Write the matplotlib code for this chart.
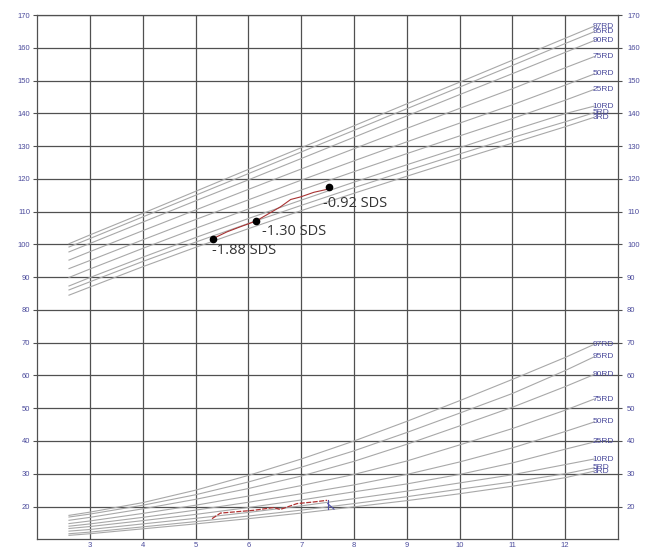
import numpy as np
from matplotlib import pyplot as plt
from matplotlib.transforms import ScaledTranslation

# centile reference curves, height (cm) and weight (kg) on one chart
centiles = ['97RD', '95RD', '90RD', '75RD', '50RD', '25RD', '10RD', '5RD', '3RD']
ages = [2.6, 3, 4, 5, 6, 7, 8, 9, 10, 11, 12, 12.55]

height_97 = [100.2, 102.9, 109.5, 116.2, 122.9, 129.5, 136.2, 142.9, 149.5, 156.2, 162.9, 166.6]
height_95 = [99.2, 101.8, 108.4, 115.0, 121.6, 128.2, 134.8, 141.4, 148.0, 154.6, 161.3, 164.9]
height_90 = [97.7, 100.3, 106.8, 113.3, 119.7, 126.2, 132.7, 139.2, 145.7, 152.1, 158.6, 162.2]
height_75 = [95.2, 97.8, 104.2, 110.5, 116.8, 123.0, 129.2, 135.4, 141.5, 147.5, 153.9, 157.3]
height_50 = [92.6, 95.1, 101.4, 107.6, 113.6, 119.6, 125.5, 131.3, 137.0, 142.6, 148.6, 152.0]
height_25 = [89.9, 92.5, 98.8, 104.9, 110.8, 116.6, 122.2, 127.7, 133.1, 138.4, 144.0, 147.3]
height_10 = [87.3, 89.9, 96.1, 102.1, 107.9, 113.5, 119.0, 124.3, 129.5, 134.8, 139.9, 142.2]
height_5 = [86.1, 88.6, 94.8, 100.7, 106.4, 111.9, 117.3, 122.5, 127.6, 132.6, 137.4, 140.2]
height_3 = [84.5, 87.0, 93.2, 99.1, 104.8, 110.3, 115.6, 120.8, 125.9, 130.9, 135.9, 138.8]

weight_97 = [17.3, 18.3, 21.2, 25.0, 29.5, 34.5, 40.0, 46.0, 52.3, 58.8, 65.5, 69.5]
weight_95 = [16.8, 17.7, 20.4, 23.6, 27.5, 32.0, 37.0, 42.6, 48.5, 54.5, 61.5, 65.7]
weight_90 = [15.8, 16.7, 19.3, 22.2, 25.5, 29.3, 33.8, 39.0, 44.6, 50.3, 56.6, 60.3]
weight_75 = [14.8, 15.6, 17.9, 20.4, 23.2, 26.4, 29.8, 33.9, 38.8, 43.8, 49.4, 52.8]
weight_50 = [14.0, 14.7, 16.7, 18.9, 21.3, 23.9, 26.6, 29.8, 33.6, 37.9, 42.9, 45.8]
weight_25 = [13.3, 13.9, 15.7, 17.6, 19.7, 22.0, 24.5, 26.9, 29.8, 33.3, 37.5, 39.7]
weight_10 = [12.5, 13.0, 14.7, 16.4, 18.2, 20.2, 22.4, 24.7, 27.2, 29.7, 32.8, 34.5]
weight_5 = [11.7, 12.2, 13.8, 15.4, 17.1, 18.9, 20.9, 23.0, 25.3, 27.5, 30.0, 31.8]
weight_3 = [11.2, 11.7, 13.2, 14.7, 16.3, 18.0, 19.9, 21.8, 23.9, 26.2, 28.8, 30.8]

# patient measurements
pt_age = [5.32, 5.59, 5.85, 6.14, 6.61, 6.80, 6.99, 7.24, 7.49, 7.535]
pt_height = [101.7, 103.8, 105.4, 107.1, 111.5, 113.7, 114.5, 115.9, 116.8, 117.6]
wt_age = [5.31, 5.47, 6.10, 6.48, 6.60, 6.92, 7.24, 7.49]
pt_weight = [16.3, 18.0, 18.85, 19.7, 19.1, 20.9, 21.4, 21.9]

sds_age = [5.32, 6.14, 7.535]
sds_height = [101.7, 107.1, 117.6]
sds_text = ['-1.88 SDS', '-1.30 SDS', '-0.92 SDS']
sds_text_xy = [(5.31, 98.2), (6.26, 104.0), (7.42, 112.5)]

x_ticks = list(range(3, 13))
y_ticks = list(range(20, 171, 10))

heights = [height_97, height_95, height_90, height_75, height_50,
           height_25, height_10, height_5, height_3]
weights = [weight_97, weight_95, weight_90, weight_75, weight_50,
           weight_25, weight_10, weight_5, weight_3]

label_col = '#4b4b9c'
grid_col = '#505050'
curve_col = '#a8a8a8'

fig = plt.figure(figsize=(6.46, 5.5), dpi=100)
ax = fig.add_axes([37.3 / 646, 10.7 / 550, (618 - 37.3) / 646, (539.3 - 15) / 550])

ax.set_xlim(2, 13)
ax.set_ylim(10, 170)
ax.set_xticks(x_ticks)
ax.set_yticks(y_ticks)
ax.grid(True, color=grid_col, linewidth=0.9)
ax.set_axisbelow(True)
for s in ax.spines.values():
    s.set_color(grid_col)
    s.set_linewidth(0.9)

ax.tick_params(axis='y', which='both', left=True, right=True, labelleft=True,
               labelright=True, length=3, width=0.8, color=grid_col,
               labelsize=5.5, labelcolor=label_col, pad=2)
ax.tick_params(axis='x', length=0, labelsize=5.5, labelcolor=label_col, pad=2)
for lab in ax.get_xticklabels() + ax.get_yticklabels():
    lab.set_family('Liberation Sans')

# right-hand labels sit a touch further out
shift = ScaledTranslation(1.5 / 72, 0, fig.dpi_scale_trans)
for tick in ax.yaxis.get_major_ticks():
    tick.label2.set_transform(tick.label2.get_transform() + shift)

for name, h, w in zip(centiles, heights, weights):
    ax.plot(ages, h, color=curve_col, linewidth=0.8, zorder=2)
    ax.plot(ages, w, color=curve_col, linewidth=0.8, zorder=2)
    for vals in (h, w):
        ax.text(ages[-1] - 0.03, vals[-1], name, color=label_col, fontsize=6,
                family='Liberation Sans', va='center', ha='left', zorder=3)

# patient growth lines
ax.plot(pt_age[:-1], pt_height[:-1], color='#a83232', linewidth=0.8, zorder=4)
ax.plot(pt_age[-2:], pt_height[-2:], color='#5050a8', linewidth=0.8, zorder=4)
ax.plot(wt_age, pt_weight, color='#b03030', linewidth=0.9, linestyle=(0, (4, 1.2)),
        zorder=4)
ax.plot([7.5, 7.5], [21.9, 19.3], color='#5050a8', linewidth=0.8, zorder=4)
ax.plot([7.5, 7.62], [20.9, 19.2], color='#5050a8', linewidth=0.8, zorder=4)

ax.plot(sds_age, sds_height, 'o', color='black', markersize=4.5, zorder=5)
for t, (tx, ty) in zip(sds_text, sds_text_xy):
    ax.text(tx, ty, t, fontsize=10.5, color='#333333', family='Open Sans',
            va='center', ha='left', zorder=6)

plt.savefig('out.png', dpi=100)
